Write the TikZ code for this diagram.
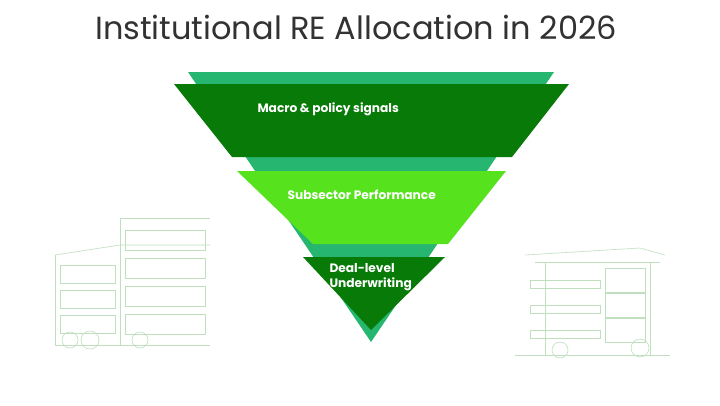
\documentclass[tikz,border=0pt]{standalone}
\usepackage{fontspec}
\setmainfont{Poppins}
\begin{document}
\begin{tikzpicture}[x=1pt,y=-1pt,
  sketch/.style={draw=green!50!black!25, line width=0.6pt},
  lbl/.style={text=white, font=\fontsize{12.2}{14}\selectfont\bfseries, align=left, anchor=west}]
\useasboundingbox (0,0) rectangle (720,405);
\fill[white] (0,0) rectangle (720,405);
% left building sketch
\begin{scope}[sketch]
\draw (55,255) -- (55,345) -- (210,345);
\draw (55,255) -- (120,245) -- (210,245);
\draw (120,218) -- (120,345);
\draw (120,218) -- (210,218);
\foreach \y in {265,290,315} {\draw (60,\y) rectangle (115,\y+18);}
\foreach \y in {230,258,286,314} {\draw (125,\y) rectangle (205,\y+20);}
\draw (70,340) circle (8); \draw (90,340) circle (9); \draw (140,340) circle (8);
\end{scope}
% right building sketch
\begin{scope}[sketch]
\draw (525,255) -- (640,248) -- (665,255);
\draw (535,262) -- (660,262);
\draw (545,262) -- (545,355); \draw (650,262) -- (650,355);
\foreach \y in {280,305,330} {\draw (530,\y) rectangle (600,\y+8); \draw (605,\y-12) rectangle (645,\y+12);}
\draw (515,355) -- (670,355);
\draw (560,350) circle (8); \draw (640,348) circle (9);
\end{scope}
% funnel
\fill[fill={rgb,255:red,38;green,182;blue,112}] (188,72) -- (554,72) -- (371,342) -- cycle;
\fill[fill={rgb,255:red,8;green,122;blue,8}] (174,84) -- (569,84) -- (512,157) -- (232,157) -- cycle;
\fill[fill={rgb,255:red,86;green,226;blue,28}] (237,171) -- (506,171) -- (448,244) -- (313,244) -- cycle;
\fill[fill={rgb,255:red,8;green,122;blue,8}] (303,257) -- (445,257) -- (371,330) -- cycle;
\node[font=\fontsize{32}{36}\selectfont, text={rgb,255:red,50;green,50;blue,50}] (title) at (356,27) {Institutional RE Allocation in 2026};
\node[lbl] (l1) at (254,109) {Macro \& policy signals};
\node[lbl] (l2) at (284,195) {Subsector Performance};
\node[lbl, font=\fontsize{12.2}{15}\selectfont\bfseries] (l3) at (326,277) {Deal-level\\Underwriting};
\end{tikzpicture}
\end{document}
